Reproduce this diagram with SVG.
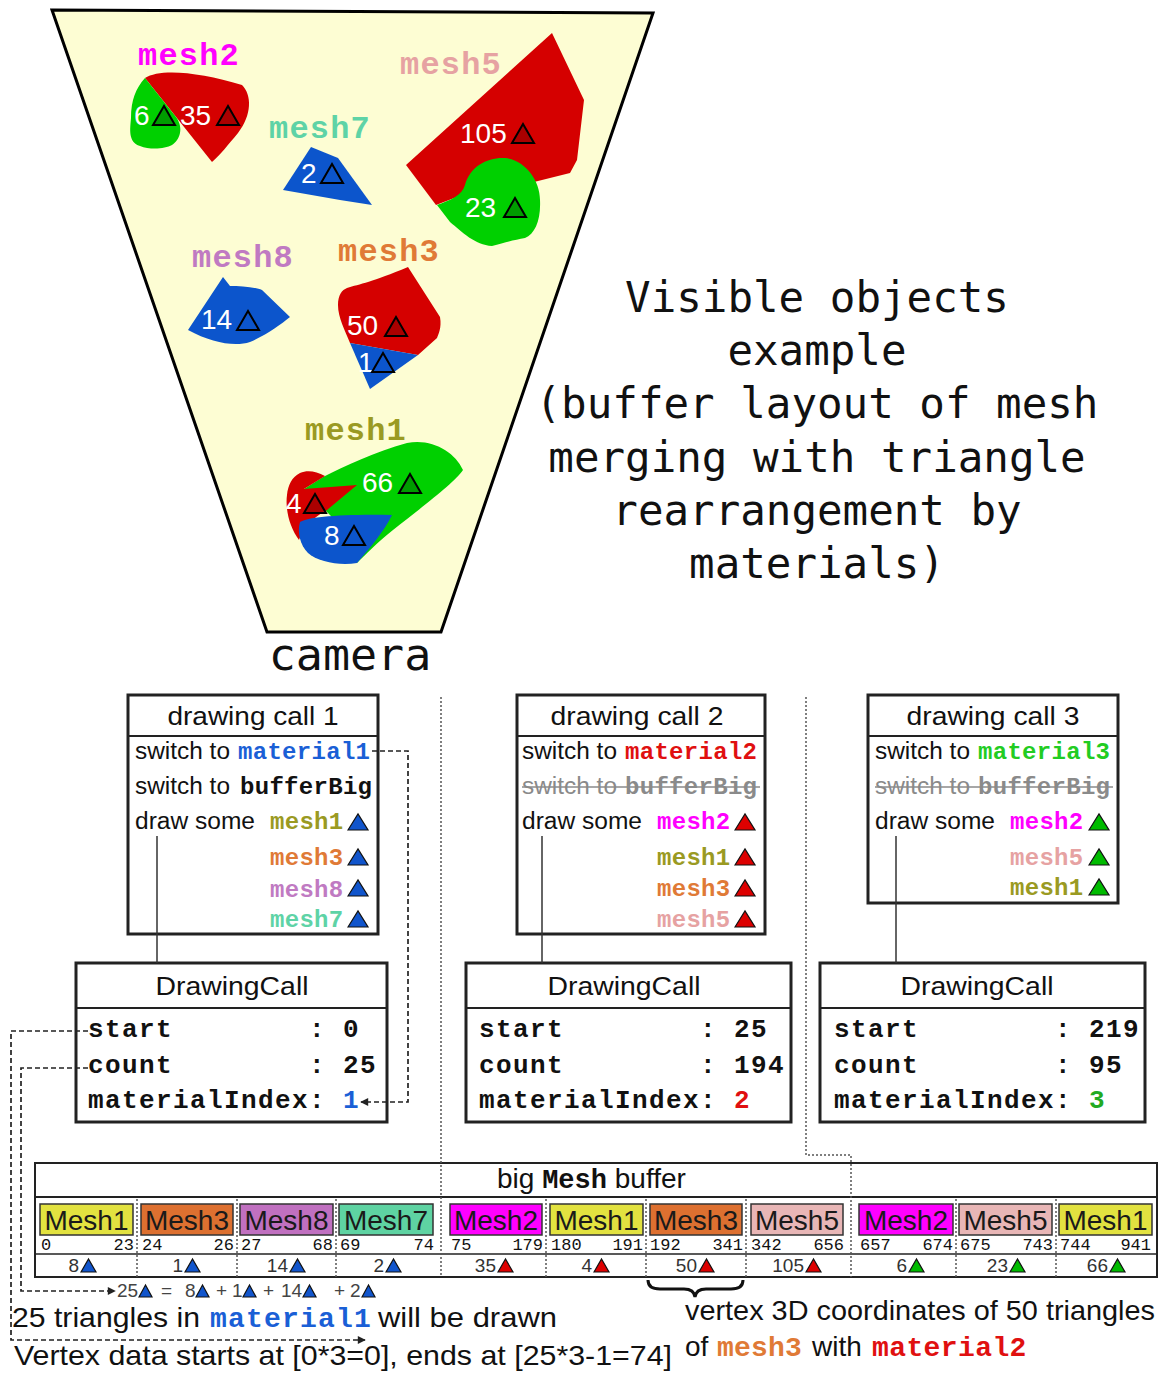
<svg xmlns="http://www.w3.org/2000/svg" xmlns:xlink="http://www.w3.org/1999/xlink" width="1166" height="1374" viewBox="0 0 1166 1374">
  <style>
    .sans { font-family: "Liberation Sans", Arial, sans-serif; }
    .mono { font-family: "Liberation Mono", "Courier New", monospace; font-weight: bold; }
    .title { font-family: "DejaVu Sans Mono", "Liberation Mono", monospace; font-size: 42.5px; fill: #111; }
    .lbl { font-size: 32px; letter-spacing: 1.2px; }
    .num { font-family: "Liberation Sans", Arial, sans-serif; font-size: 28px; fill: #fff; }
    .open { fill: none; stroke: #000; stroke-width: 2; stroke-linejoin: miter; }
    .box { fill: #fff; stroke: #222; stroke-width: 3; }
    .sep { stroke: #222; stroke-width: 2; }
    .body { font-size: 23px; fill: #111; }
    .bm { font-size: 24px; letter-spacing: 0.3px; }
    .row { font-size: 26px; letter-spacing: 1.4px; fill: #111; }
    .stub { stroke: #333; stroke-width: 1.5; fill: none; }
    .dash { stroke: #222; stroke-width: 1.7; fill: none; stroke-dasharray: 5 3; }
    .dot { stroke: #555; stroke-width: 1.5; fill: none; stroke-dasharray: 2 2; }
    .blk { stroke: #333; stroke-width: 1.5; }
    .blkt { font-size: 28px; fill: #1a1a1a; }
    .idx { font-family: "Liberation Mono", "Courier New", monospace; font-size: 17px; fill: #111; }
    .cnt { font-size: 19px; fill: #333; }
    .tb { fill: #1155cc; stroke: #111; stroke-width: 1.2; }
    .tr { fill: #dd0000; stroke: #111; stroke-width: 1.2; }
    .tg { fill: #00bb00; stroke: #111; stroke-width: 1.2; }
    .c-m1 { fill: #9a9a22; } .c-m2 { fill: #ff00ff; } .c-m3 { fill: #e07a36; }
    .c-m5 { fill: #e6a2a2; } .c-m7 { fill: #5ed3a6; } .c-m8 { fill: #c07ac2; }
    .big { font-size: 28px; fill: #111; }
  </style>
  <defs>
    <path id="triBox" d="M0,0 L10,-16 L20,0 Z"/>
    <path id="triSm" d="M0,0 L7.5,-13 L15,0 Z"/>
    <path id="triNote" d="M0,0 L6.5,-12 L13,0 Z"/>
    <path id="triOpen" d="M0,0 L11,-19 L22,0 Z"/>
    <marker id="arr" viewBox="0 0 10 10" refX="9" refY="5" markerWidth="12" markerHeight="8" markerUnits="userSpaceOnUse" orient="auto">
      <path d="M0,0 L10,5 L0,10 Z" fill="#222"/>
    </marker>
  </defs>

  <!-- view frustum with the visible meshes -->
  <g id="frustum">
    <polygon points="52,10 653,13 441,632 267,632" fill="#fdfdd3" stroke="#000" stroke-width="3" stroke-linejoin="miter"/>
    <text x="350" y="670" class="title" style="font-size:45px" text-anchor="middle">camera</text>
  </g>

  <g id="mesh2">
    <text x="138" y="65" class="mono lbl c-m2">mesh2</text>
    <path d="M145,78 C160,68 200,72 242,85 C252,95 252,115 238,133 C228,145 220,155 212,162 Z" fill="#d50000"/>
    <path d="M145,78 L176,117 C184,128 180,140 172,145 C165,149 150,150 140,146 C128,142 130,130 131,118 C131,100 136,88 145,78 Z" fill="#00d000"/>
    <text x="134" y="125" class="num">6</text>
    <use xlink:href="#triOpen" x="153" y="125" class="open" style="fill:#007a00;fill-opacity:0.6"/>
    <text x="180" y="125" class="num">35</text>
    <use xlink:href="#triOpen" x="217" y="125" class="open" style="fill:#800000;fill-opacity:0.5"/>
  </g>

  <g id="mesh5">
    <text x="400" y="74" class="mono lbl c-m5">mesh5</text>
    <path d="M406,165 L552,33 L584,100 L577,160 L570,173 L534,182 L470,192 L436,205 Z" fill="#d50000"/>
    <path d="M437,205 C450,200 462,196 465,185 C470,166 488,157 505,158 C525,160 540,180 540,200 C541,220 535,234 525,238 C515,240 505,242 492,246 C475,245 462,232 450,222 Z" fill="#00d000"/>
    <text x="460" y="143" class="num">105</text>
    <use xlink:href="#triOpen" x="512" y="143" class="open" style="fill:#800000;fill-opacity:0.5"/>
    <text x="465" y="217" class="num">23</text>
    <use xlink:href="#triOpen" x="504" y="217" class="open" style="fill:#007a00;fill-opacity:0.6"/>
  </g>

  <g id="mesh7">
    <text x="269" y="138" class="mono lbl c-m7">mesh7</text>
    <path d="M311,147 L338,158 L372,205 L340,200 L283,190 Z" fill="#0c55cc"/>
    <text x="301" y="183" class="num">2</text>
    <use xlink:href="#triOpen" x="321" y="183" class="open"/>
  </g>

  <g id="mesh8">
    <text x="192" y="267" class="mono lbl c-m8">mesh8</text>
    <path d="M188,330 L223,277 L230,286 C240,286 255,287 262,290 L290,317 C280,325 268,334 250,342 C235,347 212,343 188,330 Z" fill="#0c55cc"/>
    <text x="201" y="329" class="num">14</text>
    <use xlink:href="#triOpen" x="237" y="330" class="open"/>
  </g>

  <g id="mesh3">
    <text x="338" y="261" class="mono lbl c-m3">mesh3</text>
    <path d="M338,305 C338,295 342,290 347,288 C360,284 372,282 408,267 L440,317 C442,328 438,335 437,338 L418,355 L350,343 C345,330 338,318 338,305 Z" fill="#d50000"/>
    <path d="M350,343 L418,355 L370,389 Z" fill="#0c55cc"/>
    <text x="347" y="335" class="num">50</text>
    <use xlink:href="#triOpen" x="385" y="336" class="open" style="fill:#800000;fill-opacity:0.5"/>
    <text x="358" y="372" class="num">1</text>
    <use xlink:href="#triOpen" x="372" y="372" class="open"/>
  </g>

  <g id="mesh1">
    <text x="305" y="440" class="mono lbl c-m1">mesh1</text>
    <path d="M323,477 C345,466 375,452 407,443 C432,438 455,452 463,470 C455,482 425,505 393,530 C378,542 365,555 357,563 L350,540 L330,515 L304,489 Z" fill="#00d000"/>
    <path d="M300,473 C307,470 316,471 325,476 L304,489 L357,485 L327,510 C312,518 303,528 299,540 C290,528 285,510 287,495 C288,485 292,477 300,473 Z" fill="#d50000"/>
    <path d="M300,522 C308,517 340,514 392,515 C385,530 370,548 357,563 C340,566 318,562 308,553 C300,545 297,532 300,522 Z" fill="#0c55cc"/>
    <text x="362" y="492" class="num">66</text>
    <use xlink:href="#triOpen" x="399" y="493" class="open" style="fill:#007a00;fill-opacity:0.6"/>
    <text x="286" y="513" class="num">4</text>
    <use xlink:href="#triOpen" x="304" y="513" class="open" style="fill:#800000;fill-opacity:0.5"/>
    <text x="324" y="545" class="num">8</text>
    <use xlink:href="#triOpen" x="343" y="545" class="open"/>
  </g>

  <g id="title" class="title" text-anchor="middle">
    <text x="817" y="312">Visible objects</text>
    <text x="817" y="365">example</text>
    <text x="817" y="418">(buffer layout of mesh</text>
    <text x="817" y="472">merging with triangle</text>
    <text x="817" y="525">rearrangement by</text>
    <text x="817" y="578">materials)</text>
  </g>

  <!-- drawing call 1 -->
  <g id="call1">
    <rect x="128" y="695" width="250" height="239" class="box"/>
    <line x1="128" y1="736" x2="378" y2="736" class="sep"/>
    <text x="253" y="725" class="sans" style="font-size:25px" fill="#111" text-anchor="middle" textLength="171" lengthAdjust="spacingAndGlyphs">drawing call 1</text>
    <text x="135" y="759" class="sans body" textLength="95" lengthAdjust="spacingAndGlyphs">switch to</text>
    <text x="238" y="759" class="mono bm" fill="#1a5fd6">material1</text>
    <text x="135" y="794" class="sans body" textLength="95" lengthAdjust="spacingAndGlyphs">switch to</text>
    <text x="240" y="794" class="mono bm" fill="#111">bufferBig</text>
    <text x="135" y="829" class="sans body" textLength="120" lengthAdjust="spacingAndGlyphs">draw some</text>
    <text x="270" y="829" class="mono bm c-m1">mesh1</text>
    <use xlink:href="#triBox" x="348" y="830" class="tb"/>
    <text x="270" y="865" class="mono bm c-m3">mesh3</text>
    <use xlink:href="#triBox" x="348" y="865" class="tb"/>
    <text x="270" y="897" class="mono bm c-m8">mesh8</text>
    <use xlink:href="#triBox" x="348" y="896" class="tb"/>
    <text x="270" y="927" class="mono bm c-m7">mesh7</text>
    <use xlink:href="#triBox" x="348" y="927" class="tb"/>
  </g>

  <!-- drawing call 2 -->
  <g id="call2">
    <rect x="517" y="695" width="248" height="239" class="box"/>
    <line x1="517" y1="736" x2="765" y2="736" class="sep"/>
    <text x="637" y="725" class="sans" style="font-size:25px" fill="#111" text-anchor="middle" textLength="173" lengthAdjust="spacingAndGlyphs">drawing call 2</text>
    <text x="522" y="759" class="sans body" textLength="95" lengthAdjust="spacingAndGlyphs">switch to</text>
    <text x="625" y="759" class="mono bm" fill="#e01010">material2</text>
    <text x="522" y="794" class="sans body" style="fill:#8a8a8a" textLength="95" lengthAdjust="spacingAndGlyphs">switch to</text>
    <text x="625" y="794" class="mono bm" fill="#8a8a8a">bufferBig</text>
    <line x1="522" y1="787" x2="760" y2="787" stroke="#8a8a8a" stroke-width="1.5"/>
    <text x="522" y="829" class="sans body" textLength="120" lengthAdjust="spacingAndGlyphs">draw some</text>
    <text x="657" y="829" class="mono bm c-m2">mesh2</text>
    <use xlink:href="#triBox" x="735" y="830" class="tr"/>
    <text x="657" y="865" class="mono bm c-m1">mesh1</text>
    <use xlink:href="#triBox" x="735" y="865" class="tr"/>
    <text x="657" y="896" class="mono bm c-m3">mesh3</text>
    <use xlink:href="#triBox" x="735" y="896" class="tr"/>
    <text x="657" y="927" class="mono bm c-m5">mesh5</text>
    <use xlink:href="#triBox" x="735" y="927" class="tr"/>
  </g>

  <!-- drawing call 3 -->
  <g id="call3">
    <rect x="868" y="695" width="250" height="208" class="box"/>
    <line x1="868" y1="736" x2="1118" y2="736" class="sep"/>
    <text x="993" y="725" class="sans" style="font-size:25px" fill="#111" text-anchor="middle" textLength="173" lengthAdjust="spacingAndGlyphs">drawing call 3</text>
    <text x="875" y="759" class="sans body" textLength="95" lengthAdjust="spacingAndGlyphs">switch to</text>
    <text x="978" y="759" class="mono bm" fill="#22cc22">material3</text>
    <text x="875" y="794" class="sans body" style="fill:#8a8a8a" textLength="95" lengthAdjust="spacingAndGlyphs">switch to</text>
    <text x="978" y="794" class="mono bm" fill="#8a8a8a">bufferBig</text>
    <line x1="875" y1="787" x2="1113" y2="787" stroke="#8a8a8a" stroke-width="1.5"/>
    <text x="875" y="829" class="sans body" textLength="120" lengthAdjust="spacingAndGlyphs">draw some</text>
    <text x="1010" y="829" class="mono bm c-m2">mesh2</text>
    <use xlink:href="#triBox" x="1089" y="830" class="tg"/>
    <text x="1010" y="865" class="mono bm c-m5">mesh5</text>
    <use xlink:href="#triBox" x="1089" y="865" class="tg"/>
    <text x="1010" y="895" class="mono bm c-m1">mesh1</text>
    <use xlink:href="#triBox" x="1089" y="895" class="tg"/>
  </g>

  <!-- DrawingCall records -->
  <g id="dc1">
    <rect x="76" y="963" width="311" height="159" class="box"/>
    <line x1="76" y1="1008" x2="387" y2="1008" class="sep"/>
    <text x="232" y="995" class="sans" style="font-size:25px" fill="#111" text-anchor="middle" textLength="153" lengthAdjust="spacingAndGlyphs">DrawingCall</text>
    <text x="88" y="1037" class="mono row" xml:space="preserve">start        : 0</text>
    <text x="88" y="1073" class="mono row" xml:space="preserve">count        : 25</text>
    <text x="88" y="1108" class="mono row" xml:space="preserve">materialIndex: <tspan fill="#1a5fd6">1</tspan></text>
  </g>
  <g id="dc2">
    <rect x="466" y="963" width="325" height="159" class="box"/>
    <line x1="466" y1="1008" x2="791" y2="1008" class="sep"/>
    <text x="624" y="995" class="sans" style="font-size:25px" fill="#111" text-anchor="middle" textLength="153" lengthAdjust="spacingAndGlyphs">DrawingCall</text>
    <text x="479" y="1037" class="mono row" xml:space="preserve">start        : 25</text>
    <text x="479" y="1073" class="mono row" xml:space="preserve">count        : 194</text>
    <text x="479" y="1108" class="mono row" xml:space="preserve">materialIndex: <tspan fill="#e01010">2</tspan></text>
  </g>
  <g id="dc3">
    <rect x="820" y="963" width="325" height="159" class="box"/>
    <line x1="820" y1="1008" x2="1145" y2="1008" class="sep"/>
    <text x="977" y="995" class="sans" style="font-size:25px" fill="#111" text-anchor="middle" textLength="153" lengthAdjust="spacingAndGlyphs">DrawingCall</text>
    <text x="834" y="1037" class="mono row" xml:space="preserve">start        : 219</text>
    <text x="834" y="1073" class="mono row" xml:space="preserve">count        : 95</text>
    <text x="834" y="1108" class="mono row" xml:space="preserve">materialIndex: <tspan fill="#22aa22">3</tspan></text>
  </g>

  <!-- merged vertex buffer -->
  <g id="buffer">
    <rect x="35" y="1163" width="1122" height="114" fill="none" stroke="#222" stroke-width="2"/>
    <line x1="35" y1="1197" x2="1157" y2="1197" stroke="#222" stroke-width="2"/>
    <line x1="35" y1="1254" x2="1157" y2="1254" stroke="#222" stroke-width="1.5"/>
    <text x="497" y="1188" class="sans big">big <tspan class="mono" style="font-size:27px">Mesh</tspan> buffer</text>
    <g class="dot">
      <path d="M137,1199 V1277 M237,1199 V1277 M336,1199 V1277 M546,1199 V1277 M646,1199 V1277 M746,1199 V1277 M956,1199 V1277 M1056,1199 V1277"/>
    </g>
    <g class="blk">
      <rect x="40" y="1204" width="93" height="31" fill="#e2e240"/>
      <rect x="141" y="1204" width="92" height="31" fill="#dd7030"/>
      <rect x="240" y="1204" width="93" height="31" fill="#c070c0"/>
      <rect x="339" y="1204" width="94" height="31" fill="#5ed3a2"/>
      <rect x="450" y="1204" width="92" height="31" fill="#ff00ff"/>
      <rect x="550" y="1204" width="93" height="31" fill="#e2e240"/>
      <rect x="650" y="1204" width="92" height="31" fill="#dd7030"/>
      <rect x="751" y="1204" width="92" height="31" fill="#e8b6b6"/>
      <rect x="859" y="1204" width="94" height="31" fill="#ff00ff"/>
      <rect x="959" y="1204" width="93" height="31" fill="#e8b6b6"/>
      <rect x="1059" y="1204" width="93" height="31" fill="#e2e240"/>
    </g>
    <g class="sans blkt" text-anchor="middle">
      <text x="86.5" y="1230">Mesh1</text>
      <text x="187" y="1230">Mesh3</text>
      <text x="286.5" y="1230">Mesh8</text>
      <text x="386" y="1230">Mesh7</text>
      <text x="496" y="1230">Mesh2</text>
      <text x="596.5" y="1230">Mesh1</text>
      <text x="696" y="1230">Mesh3</text>
      <text x="797" y="1230">Mesh5</text>
      <text x="906" y="1230">Mesh2</text>
      <text x="1005.5" y="1230">Mesh5</text>
      <text x="1105.5" y="1230">Mesh1</text>
    </g>
    <g class="idx">
      <text x="41" y="1250">0</text>
      <text x="142" y="1250">24</text>
      <text x="241" y="1250">27</text>
      <text x="340" y="1250">69</text>
      <text x="451" y="1250">75</text>
      <text x="551" y="1250">180</text>
      <text x="650" y="1250">192</text>
      <text x="751" y="1250">342</text>
      <text x="860" y="1250">657</text>
      <text x="960" y="1250">675</text>
      <text x="1060" y="1250">744</text>
    </g>
    <g class="idx" text-anchor="end">
      <text x="134" y="1250">23</text>
      <text x="234" y="1250">26</text>
      <text x="333" y="1250">68</text>
      <text x="434" y="1250">74</text>
      <text x="543" y="1250">179</text>
      <text x="643" y="1250">191</text>
      <text x="743" y="1250">341</text>
      <text x="844" y="1250">656</text>
      <text x="953" y="1250">674</text>
      <text x="1053" y="1250">743</text>
      <text x="1151" y="1250">941</text>
    </g>
    <g class="sans cnt" text-anchor="end">
      <text x="79" y="1272">8</text>
      <text x="183" y="1272">1</text>
      <text x="288" y="1272">14</text>
      <text x="384" y="1272">2</text>
      <text x="496" y="1272">35</text>
      <text x="592" y="1272">4</text>
      <text x="697" y="1272">50</text>
      <text x="804" y="1272">105</text>
      <text x="907" y="1272">6</text>
      <text x="1008" y="1272">23</text>
      <text x="1108" y="1272">66</text>
    </g>
    <use xlink:href="#triSm" x="81" y="1272" class="tb"/>
    <use xlink:href="#triSm" x="185" y="1272" class="tb"/>
    <use xlink:href="#triSm" x="290" y="1272" class="tb"/>
    <use xlink:href="#triSm" x="386" y="1272" class="tb"/>
    <use xlink:href="#triSm" x="498" y="1272" class="tr"/>
    <use xlink:href="#triSm" x="594" y="1272" class="tr"/>
    <use xlink:href="#triSm" x="699" y="1272" class="tr"/>
    <use xlink:href="#triSm" x="806" y="1272" class="tr"/>
    <use xlink:href="#triSm" x="909" y="1272" class="tg"/>
    <use xlink:href="#triSm" x="1010" y="1272" class="tg"/>
    <use xlink:href="#triSm" x="1110" y="1272" class="tg"/>
  </g>

  <!-- notes under the buffer -->
  <g id="notes">
    <g class="sans cnt" style="fill:#444">
      <text x="117" y="1297">25</text>
      <text x="161" y="1297">=</text>
      <text x="185" y="1297">8</text>
      <text x="216" y="1297">+</text>
      <text x="232" y="1297">1</text>
      <text x="263" y="1297">+</text>
      <text x="281" y="1297">14</text>
      <text x="334" y="1297">+</text>
      <text x="350" y="1297">2</text>
    </g>
    <use xlink:href="#triNote" x="139" y="1297" class="tb"/>
    <use xlink:href="#triNote" x="196" y="1297" class="tb"/>
    <use xlink:href="#triNote" x="243" y="1297" class="tb"/>
    <use xlink:href="#triNote" x="303" y="1297" class="tb"/>
    <use xlink:href="#triNote" x="362" y="1297" class="tb"/>
    <text x="12" y="1327" class="sans big" textLength="188" lengthAdjust="spacingAndGlyphs">25 triangles in</text>
    <text x="210" y="1327" class="mono" style="font-size:28px;letter-spacing:1.2px" fill="#1a5fd6">material1</text>
    <text x="378" y="1327" class="sans big" textLength="179" lengthAdjust="spacingAndGlyphs">will be drawn</text>
    <text x="14" y="1365" class="sans big" textLength="658" lengthAdjust="spacingAndGlyphs">Vertex data starts at [0*3=0], ends at [25*3-1=74]</text>
    <path d="M648,1280 Q648,1289 660,1289 H684 Q694,1289 695,1297 Q696,1289 706,1289 H731 Q743,1289 743,1280" fill="none" stroke="#111" stroke-width="3"/>
    <text x="685" y="1320" class="sans big" textLength="470" lengthAdjust="spacingAndGlyphs">vertex 3D coordinates of 50 triangles</text>
    <text x="685" y="1356" class="sans big">of</text>
    <text x="717" y="1356" class="mono c-m3" style="font-size:28px;letter-spacing:0.2px">mesh3</text>
    <text x="812" y="1356" class="sans big">with</text>
    <text x="872" y="1356" class="mono" style="font-size:28px;letter-spacing:0.4px" fill="#e01010">material2</text>
  </g>

  <!-- connectors, drawn last so they sit on top of the boxes -->
  <g id="connectors">
    <path class="stub" d="M157,836 V963"/>
    <path class="stub" d="M542,836 V963"/>
    <path class="stub" d="M896,836 V963"/>
    <path class="dash" d="M372,751 H408 V1102 H361" marker-end="url(#arr)"/>
    <path class="dash" d="M88,1031 H11 V1340 H365" marker-end="url(#arr)"/>
    <path class="dash" d="M88,1068 H21 V1291 H115" marker-end="url(#arr)"/>
    <path class="dot" d="M441,697 V1277"/>
    <path class="dot" d="M806,697 V1155 H851 V1277"/>
  </g>
</svg>
